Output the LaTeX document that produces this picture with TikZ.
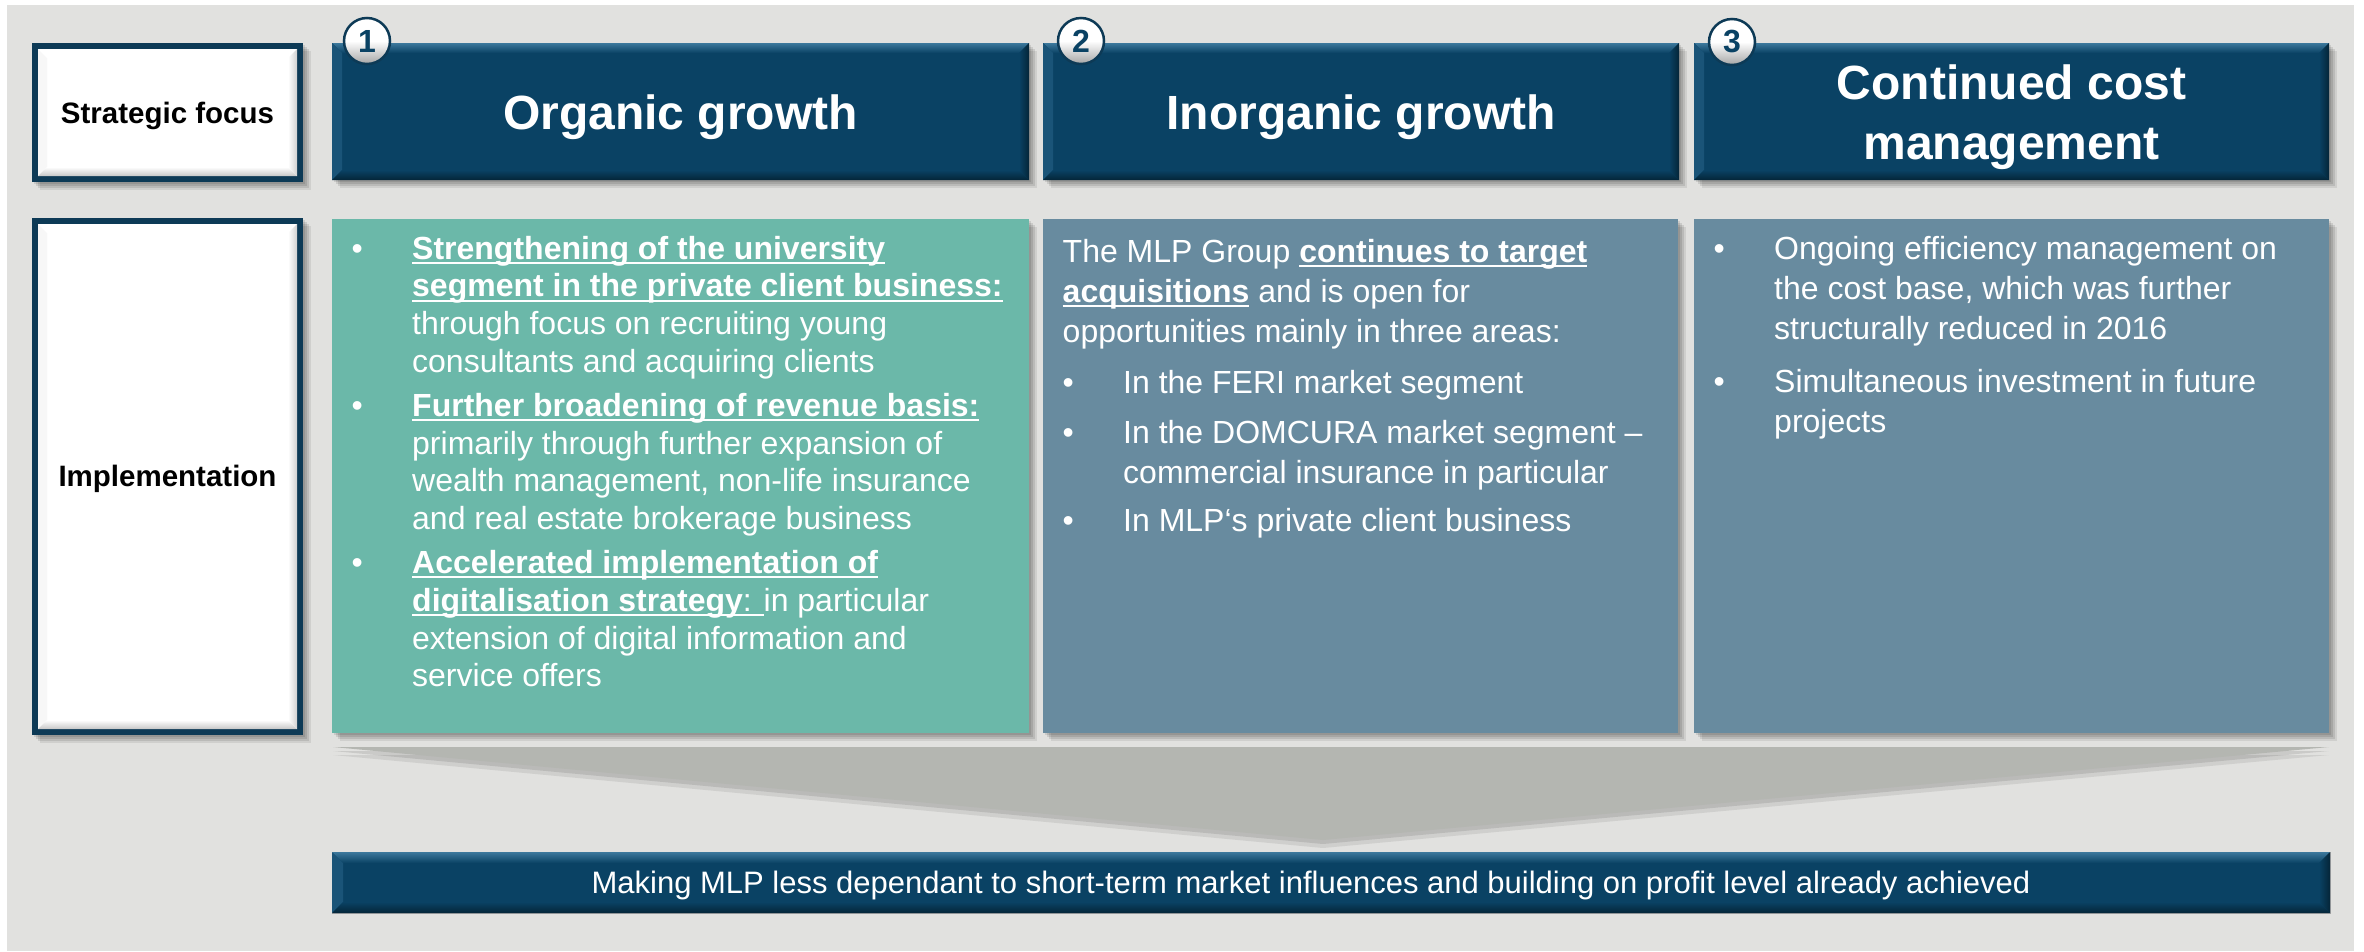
\documentclass[tikz,border=0pt]{standalone}
\usepackage{fontspec}
\setmainfont{Liberation Sans}
\usetikzlibrary{shadows}
\definecolor{bggray}{HTML}{E1E1DF}
\definecolor{navy}{HTML}{0A4264}
\definecolor{navylight}{HTML}{3C789C}
\definecolor{navydark}{HTML}{042538}
\definecolor{navyleft}{HTML}{1A5478}
\definecolor{tealbox}{HTML}{6BB8A9}
\definecolor{slatebox}{HTML}{688B9F}
\definecolor{funnelgray}{HTML}{B4B6B1}
\definecolor{sfborder}{HTML}{0D3A56}
\newsavebox\ulinbox
\newcommand\ulin[1]{\sbox\ulinbox{#1}\rlap{\rule[-5pt]{\wd\ulinbox}{2pt}}\usebox\ulinbox}
\newcommand\bul{\makebox[60.5pt][l]{\textbullet}}
\newcommand\bevelit[6]{%
  \path[#3] (#1.north west) -- (#1.north east) -- ([xshift=-#2pt,yshift=-#2pt]#1.north east) -- ([xshift=#2pt,yshift=-#2pt]#1.north west) -- cycle;
  \path[#4] (#1.north west) -- ([xshift=#2pt,yshift=-#2pt]#1.north west) -- ([xshift=#2pt,yshift=#2pt]#1.south west) -- (#1.south west) -- cycle;
  \path[#5] (#1.south west) -- (#1.south east) -- ([xshift=-#2pt,yshift=#2pt]#1.south east) -- ([xshift=#2pt,yshift=#2pt]#1.south west) -- cycle;
  \path[#6] (#1.north east) -- ([xshift=-#2pt,yshift=-#2pt]#1.north east) -- ([xshift=-#2pt,yshift=#2pt]#1.south east) -- (#1.south east) -- cycle;
}
\newcommand\navybevel[2]{\bevelit{#1}{#2}{top color=navylight, bottom color=navy}{fill=navyleft}{top color=navy, bottom color=navydark}{left color=navy, right color=navydark}}
\newcommand\whitebevel[1]{\bevelit{#1}{9}{fill=white}{fill=black!3}{top color=white, bottom color=black!22}{left color=white, right color=black!18}}
\begin{document}
\begin{tikzpicture}[x=1pt,y=-1pt,
  box/.style={rectangle, inner sep=0pt, outer sep=0pt, anchor=north west},
  shad/.style={general shadow={fill=black, opacity=0.10, shadow xshift=2pt, shadow yshift=-2pt},
               general shadow={fill=black, opacity=0.10, shadow xshift=4pt, shadow yshift=-4pt},
               general shadow={fill=black, opacity=0.10, shadow xshift=6pt, shadow yshift=-6pt},
               general shadow={fill=black, opacity=0.08, shadow xshift=8pt, shadow yshift=-8pt}},
  hdr/.style={box, fill=navy, shad, minimum height=137pt},
  content/.style={box, shad, minimum height=514pt},
  sfbox/.style={box, fill=sfborder, shad, minimum width=271pt},
  sfin/.style={rectangle, inner sep=0pt, outer sep=0pt, fill=white},
  hdrtext/.style={anchor=base, inner sep=0pt, text=white, font=\bfseries\fontsize{48}{60}\selectfont},
  lbl/.style={anchor=base, inner sep=0pt, text=black, font=\bfseries\fontsize{29.5}{36}\selectfont},
  numc/.style={circle, minimum size=46pt, inner sep=0pt, draw=sfborder, line width=2.5pt, top color=white, bottom color=black!35, middle color=white, text=navy, font=\bfseries\fontsize{32}{32}\selectfont},
  bodyA/.style={anchor=base west, text=white, font=\fontsize{32}{37.8}\selectfont, inner sep=0pt},
  bodyB/.style={anchor=base west, text=white, font=\fontsize{32}{40}\selectfont, inner sep=0pt},
]
\useasboundingbox (0,0) rectangle (2364,951);
\fill[bggray] (7,5) rectangle (2354,951);

% left label boxes
\node[sfbox, minimum height=139pt] (sf) at (32,43) {};
\node[sfin, minimum width=259pt, minimum height=127pt] (sfi) at (sf.center) {};
\whitebevel{sfi}
\node[lbl] (sft) at (167.5,123.5) {Strategic focus};

\node[sfbox, minimum height=517pt] (impl) at (32,218) {};
\node[sfin, minimum width=259pt, minimum height=505pt] (impli) at (impl.center) {};
\whitebevel{impli}
\node[lbl] (implt) at (167.5,486) {Implementation};

% headers
\node[hdr, minimum width=697pt] (h1) at (332,43) {};
\node[hdr, minimum width=636pt] (h2) at (1043,43) {};
\node[hdr, minimum width=635pt] (h3) at (1694,43) {};
\navybevel{h1}{10}
\navybevel{h2}{10}
\navybevel{h3}{10}
\node[hdrtext] (h1t) at (680.5,129) {Organic growth};
\node[hdrtext] (h2t) at (1361,129) {Inorganic growth};
\node[hdrtext] (h3t) at (2011.5,99) {\begin{tabular}[t]{@{}c@{}}Continued cost\\management\end{tabular}};

\node[numc] (n1) at (367,41) {1};
\node[numc] (n2) at (1081,41) {2};
\node[numc] (n3) at (1732,42) {3};

% funnel
\fill[funnelgray, general shadow={fill=black, opacity=0.10, shadow xshift=0pt, shadow yshift=-4pt}, general shadow={fill=black, opacity=0.08, shadow xshift=0pt, shadow yshift=-8pt}] (333,747) -- (2329,747) -- (1323,840) -- cycle;

% content boxes
\node[content, fill=tealbox, minimum width=697pt] (c1) at (332,219) {};
\node[content, fill=slatebox, minimum width=635pt] (c2) at (1043,219) {};
\node[content, fill=slatebox, minimum width=635pt] (c3) at (1694,219) {};

\node[bodyA] (t1) at (351.5,259) {\begin{tabular}[t]{@{}l@{}l@{}}
\bul & \ulin{\textbf{Strengthening of the university}}\\
 & \ulin{\textbf{segment in the private client business:}}\\
 & through focus on recruiting young\\
 & consultants and acquiring clients\\[6pt]
\bul & \ulin{\textbf{Further broadening of revenue basis:}}\\
 & primarily through further expansion of\\
 & wealth management, non-life insurance\\
 & and real estate brokerage business\\[6pt]
\bul & \ulin{\textbf{Accelerated implementation of}}\\
 & \ulin{\textbf{digitalisation strategy}: }in particular\\
 & extension of digital information and\\
 & service offers
\end{tabular}};

\node[bodyB] (t2) at (1062.5,262) {\begin{tabular}[t]{@{}l@{}l@{}}
\multicolumn{2}{@{}l@{}}{The MLP Group \ulin{\textbf{continues to target}}}\\
\multicolumn{2}{@{}l@{}}{\ulin{\textbf{acquisitions}} and is open for}\\
\multicolumn{2}{@{}l@{}}{opportunities mainly in three areas:}\\[11pt]
\bul & In the FERI market segment\\[10pt]
\bul & In the DOMCURA market segment \textendash\\
 & commercial insurance in particular\\[8pt]
\bul & In MLP‘s private client business
\end{tabular}};

\node[bodyB] (t3) at (1713.5,259) {\begin{tabular}[t]{@{}l@{}l@{}}
\bul & Ongoing efficiency management on\\
 & the cost base, which was further\\
 & structurally reduced in 2016\\[13pt]
\bul & Simultaneous investment in future\\
 & projects
\end{tabular}};

% bottom bar
\node[box, fill=navy, minimum width=1998pt, minimum height=61pt, draw=black!35, line width=1pt] (bar) at (332,852) {};
\navybevel{bar}{11}
\node[anchor=base, inner sep=0pt, text=white, font=\fontsize{31}{31}\selectfont] (bart) at (1311,893.5) {Making MLP less dependant to short-term market influences and building on profit level already achieved};
\end{tikzpicture}
\end{document}
